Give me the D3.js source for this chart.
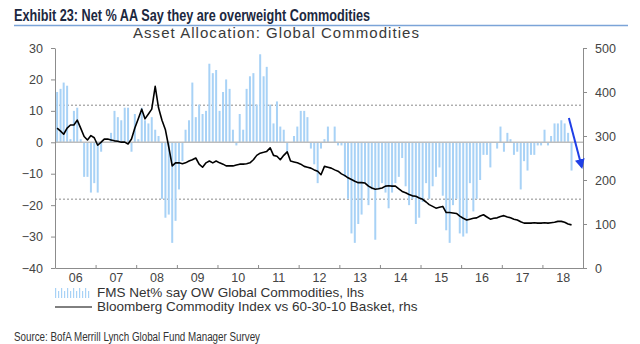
<!DOCTYPE html>
<html>
<head>
<meta charset="utf-8">
<script src="https://cdn.jsdelivr.net/npm/d3@7"></script>
<style>
	body { margin: 0; background: #fff; }
	svg { display: block; font-family: "Liberation Sans", Arial, sans-serif; }
</style>
</head>
<body>
<div class="svg-container"></div>
<script>
(function () {

	"use strict";

	// FMS: net % of asset allocators overweight commodities, monthly from Jan 2006 (lhs)
	var fmsNet = [
		16, 17, 19, 18, 1, 10, 11, 1, -11, -11, -16, -13,
		-16, -3, 0, 0, 3, 10, 8, 7, 11, 11, -3, 9,
		1, 11, 7, 6, 8, 4, 2, -18, -24, -23, -32, -25,
		-15, -6, 4, 7, 19, 8, 12, 9, 10, 25, 22, 23,
		10, 16, 20, 17, 4, -1, 9, 4, 17, 21, 22, 12,
		28, 21, 24, 12, 6, 13, 5, 4, -3, 0, 2, 5,
		10, 10, 8, -2, -7, -13, -2, 1, 5, 0, 5, -1,
		-1, -11, -18, -29, -32, -26, -23, -13, -20, -15, -31, -15,
		-13, -16, -21, -16, -13, -11, -5, -14, -20, -18, -26, -24,
		-19, -13, -18, -14, -11, -8, -17, -28, -32, -20, -18, -29,
		-30, -29, -13, -22, -18, -12, -4, -4, -8, 0, -2, 5,
		-3, 3, 1, -4, -3, -15, -6, -9, -4, -4, -1, -1,
		4, -1, 2, 6, 6, 7, 6, 3, -9
	];

	// Bloomberg Commodity Index vs 60-30-10 basket, monthly from Jan 2006 (rhs)
	var bcomRel = [
		318, 311, 304, 318, 325, 325, 336, 318, 299, 291, 301, 296,
		279, 286, 293, 293, 291, 289, 288, 286, 286, 282, 293, 318,
		339, 361, 339, 350, 361, 413, 364, 336, 314, 275, 232, 239,
		239, 237, 239, 243, 246, 250, 236, 229, 239, 243, 239, 243,
		239, 236, 232, 232, 232, 234, 236, 236, 237, 239, 246, 256,
		261, 263, 265, 273, 256, 254, 246, 256, 264, 243, 241, 239,
		236, 231, 229, 227, 223, 220, 212, 231, 229, 227, 223, 220,
		214, 210, 205, 201, 197, 194, 194, 193, 186, 182, 179, 180,
		182, 186, 187, 186, 186, 180, 174, 171, 167, 164, 163, 159,
		156, 150, 144, 140, 136, 138, 140, 126, 126, 125, 124, 118,
		113, 109, 111, 113, 114, 118, 121, 116, 111, 113, 114, 117,
		119, 116, 114, 111, 109, 105, 102, 102, 102, 103, 102, 102,
		103, 102, 103, 104, 106, 106, 104, 100, 98
	];

	var years = [2006, 2007, 2008, 2009, 2010, 2011, 2012, 2013, 2014, 2015, 2016, 2017, 2018];
	var yearLabels = ["06", "07", "08", "09", "10", "11", "12", "13", "14", "15", "16", "17", "18"];
	var lhsTicks = [30, 20, 10, 0, -10, -20, -30, -40];
	var rhsTicks = [500, 400, 300, 200, 100, 0];

	// average +/- one standard deviation of the survey reading
	var bandLevels = [11.8, -18.1];

	// the latest drop, called out with an arrow (lhs units)
	var arrowFrom = { date: "2018-08-27", value: 7.7 },
		arrowTo = { date: "2018-12-21", value: -7.9 };

	var width = 640,
		height = 344,
		plot = { left: 55, right: 583, top: 48, bottom: 268 };

	var parse = d3.utcParse("%Y-%m-%d");
	var months = fmsNet.map(function (d, i) { return d3.utcMonth.offset(new Date(Date.UTC(2006, 0, 20)), i); });

	var x = d3.scaleUtc()
		.domain([new Date(Date.UTC(2006, 0, 1)), new Date(Date.UTC(2019, 0, 1))])
		.range([plot.left, plot.right]);

	var yL = d3.scaleLinear().domain([-40, 30]).range([plot.bottom, plot.top]);
	var yR = d3.scaleLinear().domain([0, 500]).range([plot.bottom, plot.top]);

	var svg = d3.select(".svg-container").append("svg")
		.attr("width", width)
		.attr("height", height);

	// title block
	svg.append("text")
		.attr("x", 14)
		.attr("y", 21)
		.attr("fill", "#1c2840")
		.style("font-family", "'Liberation Sans Narrow', 'Liberation Sans', sans-serif")
		.style("font-weight", "bold")
		.style("font-size", "17px")
		.attr("textLength", 356)
		.attr("lengthAdjust", "spacingAndGlyphs")
		.text("Exhibit 23: Net % AA Say they are overweight Commodities");

	svg.append("line")
		.attr("x1", 14).attr("x2", 628)
		.attr("y1", 25.5).attr("y2", 25.5)
		.attr("stroke", "#7ba4d8")
		.attr("stroke-width", 1.5);

	svg.append("text")
		.attr("x", 276)
		.attr("y", 38)
		.attr("text-anchor", "middle")
		.attr("fill", "#3a3a3a")
		.style("font-size", "15px")
		.attr("textLength", 286)
		.attr("lengthAdjust", "spacing")
		.text("Asset Allocation: Global Commodities");

	// reference lines
	svg.selectAll(".band")
		.data(bandLevels)
		.enter()
		.append("line")
		.attr("class", "band")
		.attr("x1", plot.left).attr("x2", plot.right)
		.attr("y1", function (d) { return yL(d); })
		.attr("y2", function (d) { return yL(d); })
		.attr("stroke", "#8a8a8a")
		.attr("stroke-width", 1)
		.attr("stroke-dasharray", "2,2");

	// survey bars
	svg.selectAll(".bar")
		.data(fmsNet)
		.enter()
		.append("rect")
		.attr("class", "bar")
		.attr("x", function (d, i) { return x(months[i]) - 1; })
		.attr("width", 2)
		.attr("y", function (d) { return yL(Math.max(0, d)); })
		.attr("height", function (d) { return Math.abs(yL(d) - yL(0)); })
		.attr("fill", "#a8d2f6");

	svg.append("line")
		.attr("x1", plot.left).attr("x2", plot.right)
		.attr("y1", yL(0)).attr("y2", yL(0))
		.attr("stroke", "#bdbdbd")
		.attr("stroke-width", 1.5);

	// index line
	var line = d3.line()
		.x(function (d, i) { return x(months[i]); })
		.y(function (d) { return yR(d); });

	svg.append("path")
		.datum(bcomRel)
		.attr("d", line)
		.attr("fill", "none")
		.attr("stroke", "#000")
		.attr("stroke-width", 1.6)
		.attr("stroke-linejoin", "round");

	// axes
	var axisColor = "#8c8c8c";

	var left = svg.append("g")
		.attr("transform", "translate(" + plot.left + ",0)")
		.call(d3.axisLeft(yL).tickValues(lhsTicks).tickSize(4).tickSizeOuter(0).tickPadding(8));

	var right = svg.append("g")
		.attr("transform", "translate(" + plot.right + ",0)")
		.call(d3.axisRight(yR).tickValues(rhsTicks).tickSize(4).tickSizeOuter(0).tickPadding(8));

	var bottom = svg.append("g")
		.attr("transform", "translate(0," + plot.bottom + ")")
		.call(d3.axisBottom(x)
			.tickValues(years.concat([2019]).map(function (y) { return new Date(Date.UTC(y, 0, 1)); }))
			.tickSize(-3).tickSizeOuter(0).tickFormat(""));

	var yearAxis = svg.append("g")
		.attr("transform", "translate(0," + plot.bottom + ")")
		.call(d3.axisBottom(x)
			.tickValues(years.map(function (y) { return new Date(Date.UTC(y, 6, 2)); }))
			.tickSize(0).tickPadding(5)
			.tickFormat(function (d, i) { return yearLabels[i]; }));
	yearAxis.select(".domain").remove();

	[left, right, bottom].forEach(function (g) {
		g.select(".domain").attr("stroke", axisColor);
		g.selectAll(".tick line").attr("stroke", axisColor);
	});

	[left, right, yearAxis].forEach(function (g) {
		g.selectAll("text")
			.attr("fill", "#444")
			.style("font-family", "'Liberation Sans', Arial, sans-serif")
			.style("font-size", "12.5px");
	});

	// callout arrow
	svg.append("defs").append("marker")
		.attr("id", "head")
		.attr("viewBox", "0 0 10 10")
		.attr("refX", 8).attr("refY", 5)
		.attr("markerWidth", 5).attr("markerHeight", 5)
		.attr("orient", "auto")
		.append("path")
		.attr("d", "M0,0 L10,5 L0,10 z")
		.attr("fill", "#1f3fe6");

	svg.append("line")
		.attr("x1", x(parse(arrowFrom.date))).attr("y1", yL(arrowFrom.value))
		.attr("x2", x(parse(arrowTo.date))).attr("y2", yL(arrowTo.value))
		.attr("stroke", "#1f3fe6")
		.attr("stroke-width", 2)
		.attr("marker-end", "url(#head)");

	// legend
	var legend = svg.append("g").attr("transform", "translate(55,0)");

	legend.selectAll(".key-bar")
		.data(d3.range(12))
		.enter()
		.append("rect")
		.attr("x", function (d) { return d * 3; })
		.attr("y", function (d) { return d % 2 ? 291 : 288; })
		.attr("width", 1.2)
		.attr("height", function (d) { return d % 2 ? 7 : 10; })
		.attr("fill", "#a8d2f6");

	legend.append("line")
		.attr("x1", 0).attr("x2", 37)
		.attr("y1", 307).attr("y2", 307)
		.attr("stroke", "#000")
		.attr("stroke-width", 1);

	legend.selectAll(".key-text")
		.data(["FMS Net% say OW Global Commodities, lhs", "Bloomberg Commodity Index vs 60-30-10 Basket, rhs"])
		.enter()
		.append("text")
		.attr("x", 42)
		.attr("y", function (d, i) { return 297 + i * 14; })
		.attr("fill", "#333")
		.style("font-size", "13.5px")
		.text(function (d) { return d; });

	svg.append("text")
		.attr("x", 14)
		.attr("y", 341)
		.attr("fill", "#333")
		.style("font-family", "'Liberation Sans Narrow', 'Liberation Sans', sans-serif")
		.style("font-size", "12px")
		.attr("textLength", 246)
		.attr("lengthAdjust", "spacingAndGlyphs")
		.text("Source:  BofA Merrill Lynch Global Fund Manager Survey");

})();
</script>
</body>
</html>
